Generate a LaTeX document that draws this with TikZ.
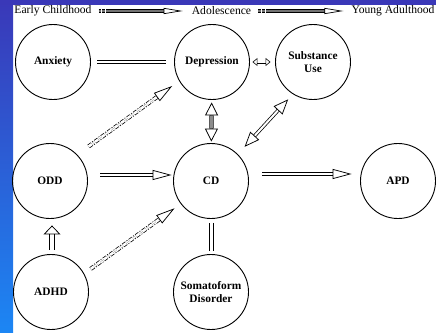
\documentclass[tikz,border=0pt]{standalone}
\usepackage{fontspec}
\setmainfont{Liberation Serif}
\usepackage{xcolor}
\usetikzlibrary{positioning,arrows.meta}

\definecolor{bandtop}{HTML}{3A38B8}
\definecolor{bandbot}{HTML}{1C86F4}

\begin{document}
\begin{tikzpicture}[x=1pt,y=-1pt,line join=miter]
    \tikzstyle{stage}=[circle,draw,line width=0.9pt,minimum size=75pt,inner sep=0pt,align=center,font=\fontsize{11.4}{12.5}\selectfont\bfseries]
    \tikzstyle{annot}=[inner sep=0pt,font=\fontsize{11.6}{13}\selectfont]
    \tikzstyle{link}=[double,double distance=2.6pt,line width=0.75pt]
    \tikzstyle{maybe link}=[link,dash pattern=on 4pt off 1.5pt on 1pt off 1.5pt]
    \tikzstyle{time link}=[double=black!55,double distance=2pt,line width=0.7pt,dash pattern=on 2.5pt off 1.2pt on 2.5pt off 1.5pt on 200pt off 1pt]

    \newcommand{\bigtip}{Triangle[open,length=19pt,width=10pt]}
    \newcommand{\midtip}{Triangle[open,length=13pt,width=13pt]}
    \newcommand{\smalltip}{Triangle[open,length=5pt,width=8pt]}

    % Background bands
    \useasboundingbox (0,0) rectangle (436,332);
    \shade[top color=bandtop,bottom color=bandbot] (0,0) rectangle (13,332);
    \fill[bandtop] (0,0) rectangle (436,5);

    % Draw the time line
    \node[annot] (early) at (53,11) {Early Childhood};
    \node[annot] (adol) at (221.5,11) {Adolescence};
    \node[annot] (young) at (393,11) {Young Adulthood};
    \draw[time link,-{Triangle[open,length=19pt,width=6pt]},shorten <=7pt,shorten >=9pt] (early) -- (adol);
    \draw[time link,-{Triangle[open,length=19pt,width=6pt]},shorten <=7pt,shorten >=8pt] (adol) -- (young);

    % Draw the disorder nodes
    \node[stage] (anx) at (53,62) {Anxiety};
    \node[stage] (dep) at (212,62) {Depression};
    \node[stage] (sub) at (313,62) {Substance\\Use};
    \node[stage] (odd) at (50,181) {ODD};
    \node[stage] (cd) at (211,181) {CD};
    \node[stage] (apd) at (398,181) {APD};
    \node[stage] (adhd) at (51,292) {ADHD};
    \node[stage] (som) at (211,292) {Somatoform\\Disorder};

    % Connect the nodes
    \draw[link,shorten <=6.5pt,shorten >=8.5pt] (anx) -- (dep);
    \draw[link,double distance=1.8pt,line width=0.6pt,{\smalltip}-{\smalltip},shorten <=2.5pt,shorten >=4.5pt] (dep) -- (sub);
    \draw[link,double=black!45,{\midtip}-{\midtip},shorten <=2.5pt,shorten >=1.5pt] (dep) -- (cd);
    \draw[link,double distance=2pt,{Triangle[open,length=15pt,width=12pt]}-{Triangle[open,length=15pt,width=12pt]},shorten <=10pt,shorten >=7pt] (cd.45) -- (sub.238);
    \draw[maybe link,-{\bigtip},shorten <=14pt,shorten >=8.5pt] (odd.44) -- (dep.210);
    \draw[maybe link,-{\bigtip},shorten <=8pt,shorten >=7.5pt] (adhd.29) -- (cd.217);
    \draw[link,-{\bigtip},shorten <=12.5pt,shorten >=1.5pt] ([yshift=6pt]odd.east) -- ([yshift=6pt]cd.west);
    \draw[link,-{\bigtip},shorten <=13.5pt,shorten >=8.5pt] ([yshift=7pt]cd.east) -- ([yshift=7pt]apd.west);
    \draw[link,double distance=4pt,-{Triangle[open,length=9pt,width=17pt]},shorten <=4.5pt,shorten >=6.5pt] ([xshift=1pt]adhd.north) -- ([xshift=2pt]odd.south);
    \draw[link,double distance=3.2pt,line width=0.85pt,shorten <=4pt,shorten >=3.5pt] ([xshift=0.5pt]cd.south) -- ([xshift=0.5pt]som.north);
\end{tikzpicture}
\end{document}
